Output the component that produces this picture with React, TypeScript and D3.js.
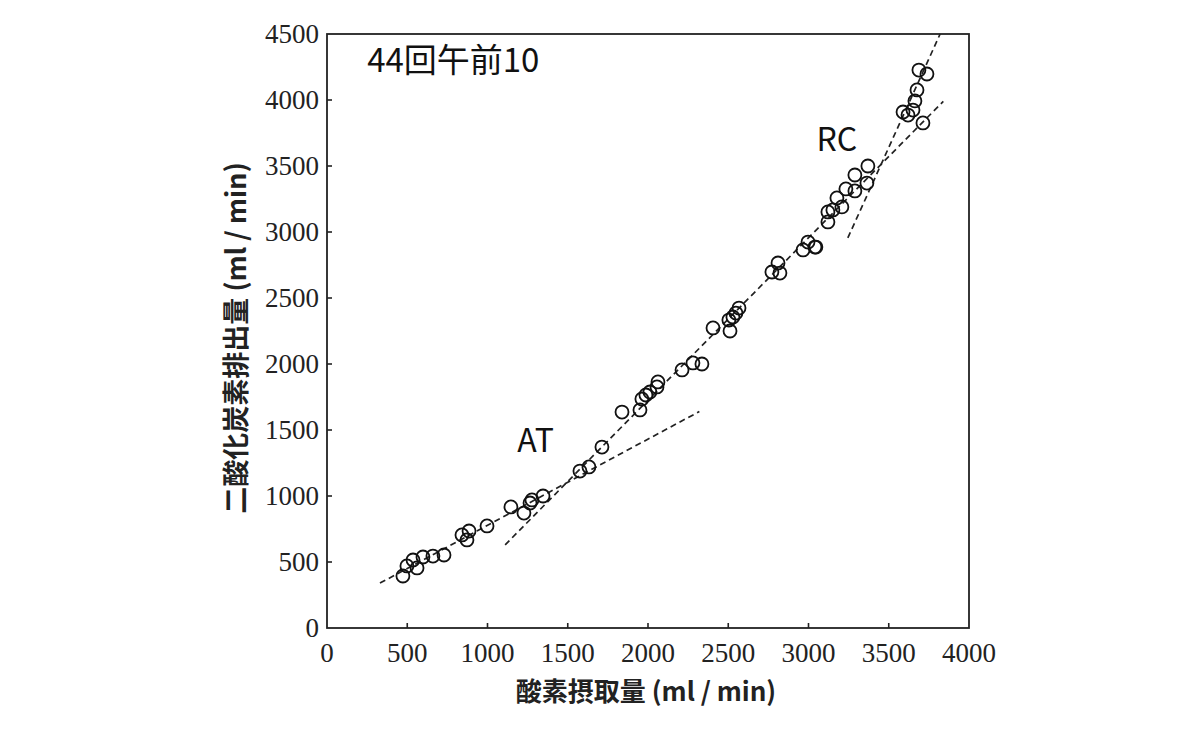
import React from 'react';
import * as d3 from 'd3';

// 酸素摂取量 (x) と 二酸化炭素排出量 (y), ml/min
const vo2 = [
  473, 498, 536, 561, 598, 660, 729, 841, 885, 872, 997, 1146, 1227, 1265, 1277, 1346,
  1576, 1632, 1713, 1838, 1950, 1962, 1987, 2012, 2056, 2062, 2212, 2280, 2336,
  2405, 2511, 2504, 2529, 2548, 2567, 2772, 2822, 2810, 2966, 3040,
  2997, 3046, 3121, 3121, 3152, 3208, 3177, 3233, 3289, 3289, 3364, 3370,
  3688, 3738, 3676, 3663, 3651, 3589, 3620, 3713,
];
const vco2 = [
  394, 470, 515, 455, 538, 545, 553, 705, 735, 667, 773, 917, 871, 947, 970, 1000,
  1189, 1220, 1371, 1636, 1652, 1735, 1765, 1788, 1826, 1864, 1955, 2008, 2000,
  2273, 2250, 2333, 2356, 2386, 2424, 2697, 2689, 2765, 2864, 2886,
  2924, 2886, 3076, 3152, 3167, 3190, 3258, 3326, 3311, 3432, 3371, 3500,
  4227, 4197, 4076, 3993, 3924, 3909, 3886, 3826,
];

// 破線の回帰直線 [x1, y1, x2, y2]
const fitLines = [
  [330, 340, 2320, 1640],
  [1110, 630, 3840, 3990],
  [3245, 2955, 3820, 4500],
];

const xTicks = [0, 500, 1000, 1500, 2000, 2500, 3000, 3500, 4000];
const yTicks = [0, 500, 1000, 1500, 2000, 2500, 3000, 3500, 4000, 4500];

const labels = [
  { text: '44回午前10', x: 250, y: 4210, size: 33 },
  { text: 'AT', x: 1185, y: 1330, size: 32 },
  { text: 'RC', x: 3050, y: 3610, size: 32 },
];

const App: React.FC = () => {
  const width = 1194;
  const height = 740;
  const x = d3.scaleLinear().domain([0, 4000]).range([327, 969]);
  const y = d3.scaleLinear().domain([0, 4500]).range([628, 34]);

  const tickFont = '"Liberation Serif", "DejaVu Serif", serif';
  const cjkFont = '"Noto Sans CJK JP", "Noto Sans", sans-serif';

  return (
    <svg
      width={width}
      height={height}
      style={{ position: 'absolute', left: 0, top: 0, background: '#fff' }}
    >
      {/* frame */}
      <rect
        x={x(0)}
        y={y(4500)}
        width={x(4000) - x(0)}
        height={y(0) - y(4500)}
        fill="none"
        stroke="#222"
        strokeWidth={1.8}
      />

      {/* y ticks */}
      {yTicks.map((t) => (
        <g key={'y' + t}>
          {t > 0 && t < 4500 && (
            <line x1={x(0)} x2={x(0) + 5} y1={y(t)} y2={y(t)} stroke="#222" strokeWidth={1.6} />
          )}
          <text
            x={x(0) - 8}
            y={y(t) + 9}
            textAnchor="end"
            fontFamily={tickFont}
            fontSize={27}
            fill="#222"
          >
            {t}
          </text>
        </g>
      ))}

      {/* x ticks */}
      {xTicks.map((t) => (
        <g key={'x' + t}>
          {t > 0 && t < 4000 && (
            <line x1={x(t)} x2={x(t)} y1={y(0)} y2={y(0) - 5} stroke="#222" strokeWidth={1.6} />
          )}
          <text
            x={x(t)}
            y={y(0) + 34}
            textAnchor="middle"
            fontFamily={tickFont}
            fontSize={27}
            fill="#222"
          >
            {t}
          </text>
        </g>
      ))}

      {/* dashed fit lines */}
      {fitLines.map(([x1, y1, x2, y2], i) => (
        <line
          key={'l' + i}
          x1={x(x1)}
          y1={y(y1)}
          x2={x(x2)}
          y2={y(y2)}
          stroke="#222"
          strokeWidth={1.7}
          strokeDasharray="6,4"
        />
      ))}

      {/* data points */}
      {vo2.map((v, i) => (
        <circle
          key={'p' + i}
          cx={x(v)}
          cy={y(vco2[i])}
          r={6.5}
          fill="none"
          stroke="#111"
          strokeWidth={1.8}
        />
      ))}

      {labels.map((l) => (
        <text
          key={l.text}
          x={x(l.x)}
          y={y(l.y)}
          fontFamily={cjkFont}
          fontSize={l.size}
          fill="#111"
        >
          {l.text}
        </text>
      ))}

      {/* axis titles */}
      <text
        x={646}
        y={701}
        textAnchor="middle"
        fontFamily={cjkFont}
        fontWeight="bold"
        fontSize={26}
        fill="#222"
      >
        酸素摂取量 (ml / min)
      </text>
      <text
        transform={`translate(246, 338) rotate(-90)`}
        textAnchor="middle"
        fontFamily={cjkFont}
        fontWeight="bold"
        fontSize={27}
        fill="#222"
      >
        二酸化炭素排出量 (ml / min)
      </text>
    </svg>
  );
};

export default App;
